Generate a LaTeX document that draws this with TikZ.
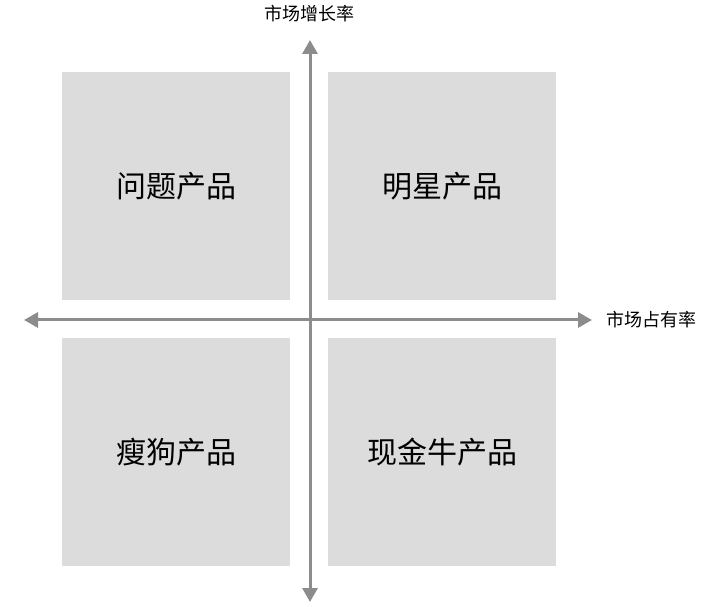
\documentclass[tikz,border=0pt]{standalone}
\usepackage{fontspec}
\newfontfamily\cjk{Noto Sans CJK SC}
\usetikzlibrary{arrows.meta}
\definecolor{boxc}{HTML}{DCDCDC}
\definecolor{axc}{HTML}{8C8C8C}
\begin{document}
\begin{tikzpicture}[x=1pt,y=1pt,
  quad/.style={fill=boxc,draw=none,minimum width=228pt,minimum height=228pt,inner sep=0pt,font=\cjk\fontsize{30}{34}\selectfont},
  ax/.style={draw=axc,line width=3pt,{Triangle[length=14pt,width=15pt]}-{Triangle[length=14pt,width=15pt]}},
  lab/.style={font=\cjk\fontsize{18}{20}\selectfont}]
\useasboundingbox (0,0) rectangle (713,606);
\node[quad] (q) at (176,420) {问题产品};
\node[quad] (s) at (442,420) {明星产品};
\node[quad] (d) at (176,154) {瘦狗产品};
\node[quad] (c) at (442,154) {现金牛产品};
\coordinate (top) at (310,566);
\coordinate (bot) at (310,4);
\coordinate (lft) at (24,286);
\coordinate (rgt) at (592,286);
\draw[ax] (bot) -- (top);
\draw[ax] (lft) -- (rgt);
\node[lab] (yl) at (309,592) {市场增长率};
\node[lab] (xl) at (651,286) {市场占有率};
\end{tikzpicture}
\end{document}
